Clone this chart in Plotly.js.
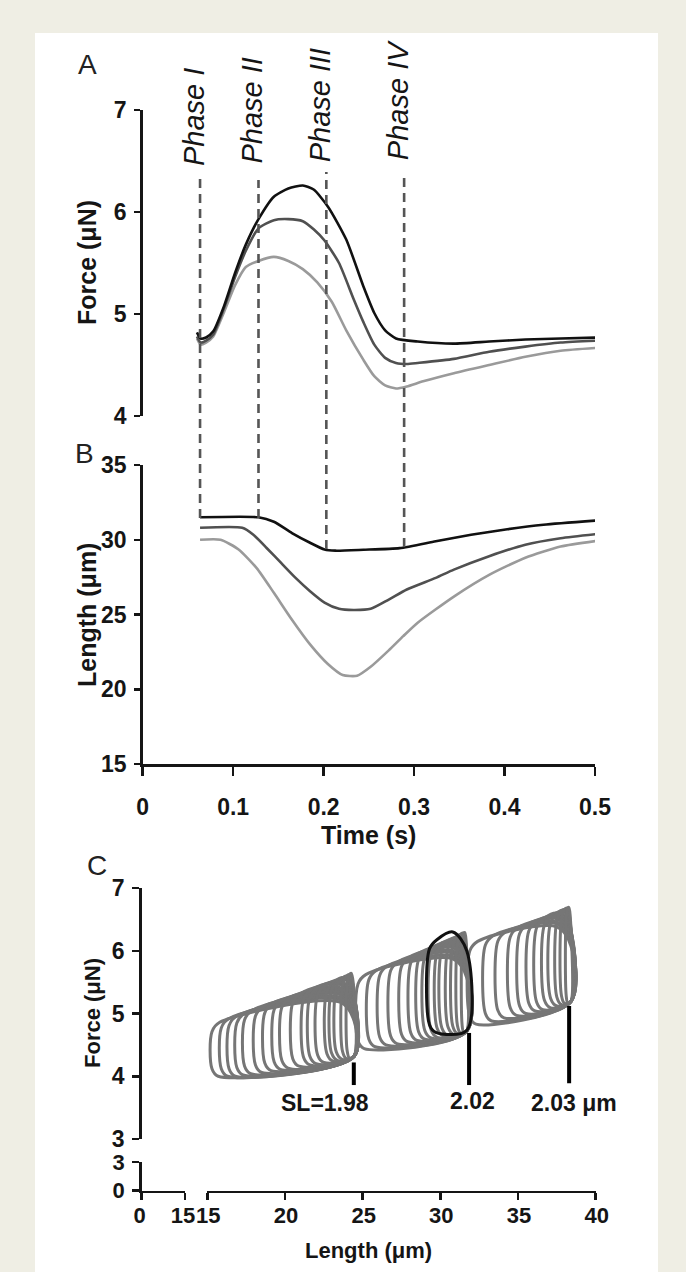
<!DOCTYPE html>
<html><head><meta charset="utf-8">
<script src="https://cdn.plot.ly/plotly-3.0.1.min.js"></script>
<style>html,body{margin:0;padding:0;background:#efeee4;} #chart{width:686px;height:1272px;}</style>
</head><body><div id="chart"></div>
<script>
// ---------- Panel A: force vs time ----------
const tA_black = [0.060,0.064,0.070,0.078,0.090,0.102,0.114,0.128,0.145,0.161,0.177,0.189,0.205,0.225,0.244,0.256,0.268,0.280,0.304,0.344,0.383,0.423,0.462,0.505];
const fA_black = [4.82,4.76,4.77,4.83,5.08,5.40,5.68,5.93,6.15,6.23,6.26,6.22,6.05,5.73,5.27,5.01,4.84,4.76,4.73,4.71,4.73,4.75,4.76,4.77];
const tA_dark = [0.060,0.064,0.070,0.078,0.090,0.102,0.114,0.128,0.145,0.161,0.177,0.189,0.201,0.217,0.233,0.244,0.256,0.268,0.280,0.292,0.304,0.344,0.383,0.423,0.462,0.505];
const fA_dark = [4.78,4.72,4.74,4.80,5.06,5.36,5.62,5.84,5.92,5.93,5.91,5.83,5.72,5.50,5.15,4.92,4.70,4.57,4.52,4.51,4.52,4.56,4.63,4.68,4.72,4.74];
const tA_light = [0.060,0.064,0.070,0.078,0.090,0.102,0.114,0.128,0.145,0.161,0.177,0.193,0.209,0.225,0.244,0.256,0.268,0.280,0.292,0.310,0.344,0.383,0.423,0.462,0.505];
const fA_light = [4.76,4.70,4.72,4.78,5.02,5.28,5.46,5.52,5.56,5.52,5.44,5.31,5.12,4.84,4.55,4.39,4.30,4.27,4.29,4.34,4.42,4.50,4.58,4.64,4.67];

// ---------- Panel B: length vs time ----------
const tB_black = [0.0634,0.128,0.145,0.165,0.185,0.201,0.213,0.244,0.284,0.324,0.363,0.403,0.443,0.505];
const lB_black = [31.5,31.5,31.2,30.45,29.8,29.35,29.27,29.33,29.44,29.9,30.33,30.7,31.0,31.3];
const tB_dark = [0.0634,0.110,0.122,0.137,0.153,0.169,0.185,0.201,0.217,0.233,0.252,0.272,0.292,0.324,0.344,0.383,0.423,0.462,0.505];
const lB_dark = [30.8,30.8,30.35,29.45,28.45,27.45,26.56,25.8,25.38,25.3,25.38,26.0,26.67,27.45,28.0,28.9,29.67,30.1,30.4];
const tB_light = [0.0634,0.086,0.106,0.126,0.145,0.165,0.185,0.205,0.221,0.237,0.252,0.272,0.288,0.304,0.344,0.383,0.423,0.462,0.505];
const lB_light = [30.0,30.0,29.35,28.1,26.45,24.65,23.0,21.67,20.95,20.9,21.5,22.6,23.55,24.45,26.2,27.65,28.8,29.55,29.95];

// ---------- Phase markers ----------
const phaseTimes = [0.0634, 0.128, 0.203, 0.289];
const phaseNames = ['Phase I', 'Phase II', 'Phase III', 'Phase IV'];

// ---------- Panel C: work loops (length, force) ----------
const groupRight = [24.45, 31.7, 38.4];
const groupRightBase = [4.32, 4.72, 5.19];
const g1Left = [15.3,15.9,16.4,16.9,17.4,18.1,18.7,19.3,19.8,20.5,21.2,21.6,22.1,22.7,23.0,23.3,23.7,24.0];
const g1TopL = [4.86,4.92,4.96,5.00,5.05,5.11,5.16,5.21,5.25,5.32,5.38,5.41,5.45,5.51,5.53,5.56,5.59,5.62];
const g1TopR = [5.18,5.22,5.24,5.26,5.30,5.33,5.36,5.39,5.41,5.46,5.49,5.51,5.53,5.57,5.58,5.60,5.62,5.64];
const g1Base = [4.00,4.00,4.00,4.02,4.04,4.06,4.09,4.11,4.13,4.16,4.18,4.20,4.22,4.24,4.25,4.27,4.28,4.29];
const g2Left = [24.7,25.4,26.1,26.8,27.5,28.1,28.6,29.0,29.4,29.8,30.1,30.5,30.8,31.1,31.4];
const g2TopL = [5.62,5.69,5.76,5.83,5.90,5.96,6.01,6.05,6.09,6.13,6.16,6.20,6.23,6.26,6.28];
const g2TopR = [5.87,5.91,5.96,6.00,6.05,6.09,6.12,6.15,6.17,6.20,6.22,6.24,6.26,6.28,6.29];
const g2Base = [4.44,4.47,4.50,4.52,4.55,4.57,4.59,4.61,4.62,4.64,4.65,4.66,4.68,4.69,4.70];
const g3Left = [31.9,32.9,33.7,34.5,35.1,35.7,36.2,36.7,37.1,37.5,37.8,38.1];
const g3TopL = [6.15,6.24,6.30,6.37,6.42,6.47,6.52,6.56,6.60,6.63,6.66,6.68];
const g3TopR = [6.38,6.43,6.46,6.51,6.54,6.56,6.60,6.62,6.65,6.66,6.68,6.69];
const g3Base = [4.83,4.88,4.93,4.97,5.00,5.04,5.06,5.09,5.12,5.14,5.16,5.17];
// highlighted (black) loop
const blackLoopLeft = [29.3], blackLoopRight = [31.7], blackLoopTopL = [6.18], blackLoopTopR = [6.30], blackLoopBaseL = [4.70], blackLoopBaseR = [4.73];
// sarcomere-length markers
const slLabels = ['SL=1.98', '2.02', '2.03 μm'];
const slMarkX = [24.43, 31.85, 38.29];
const slMarkTop = [4.22, 4.69, 5.12];
const slMarkBottom = [3.86, 3.86, 3.89];
const slLabelX = [22.6, 32.1, 38.6];
const slLabelY = [3.58, 3.60, 3.58];

// ---------- helpers / layout ----------
const W = 686, H = 1272;
const PX = p => p / W, PY = p => 1 - p / H;
const FONT = 'Arial, "Liberation Sans", Helvetica, sans-serif';
const INK = '#151515';

function loopXY(Le, R, tL, tR, bL, bR) {
  const w = R - Le;
  const dxL = Math.min(0.5, w / 3), dyL = 0.15;
  const dxR = Math.min(0.9, w / 2.5), dyR = 0.3;
  const dxB = Math.min(0.4, w / 3), dyB = 0.12;
  return {
    x: [R, R, R - dxR, Le + dxL, Le, Le, Le + dxB, R],
    y: [bR, tR - dyR, tR, tL, tL - dyL, bL + dyB, bL, bR]
  };
}

const traces = [];
function tsTrace(t, v, color, yax) {
  return {x: t, y: v, xaxis: 'x', yaxis: yax, mode: 'lines', type: 'scatter',
    line: {color: color, width: 2.6, shape: 'spline', smoothing: 0.6}, hoverinfo: 'skip'};
}
traces.push(tsTrace(tA_light, fA_light, '#9a9a9a', 'y'));
traces.push(tsTrace(tA_dark, fA_dark, '#505050', 'y'));
traces.push(tsTrace(tA_black, fA_black, '#111111', 'y'));
traces.push(tsTrace(tB_light, lB_light, '#9a9a9a', 'y2'));
traces.push(tsTrace(tB_dark, lB_dark, '#505050', 'y2'));
traces.push(tsTrace(tB_black, lB_black, '#111111', 'y2'));

const groups = [
  [g1Left, g1TopL, g1TopR, g1Base],
  [g2Left, g2TopL, g2TopR, g2Base],
  [g3Left, g3TopL, g3TopR, g3Base]
];
groups.forEach((g, gi) => {
  g[0].forEach((Le, i) => {
    const p = loopXY(Le, groupRight[gi], g[1][i], g[2][i], g[3][i], groupRightBase[gi]);
    traces.push({x: p.x, y: p.y, xaxis: 'x4', yaxis: 'y3', mode: 'lines', type: 'scatter',
      line: {color: '#767676', width: 3, shape: 'spline', smoothing: 0.9}, hoverinfo: 'skip'});
  });
});
blackLoopLeft.forEach((Le, i) => {
  const p = loopXY(Le, blackLoopRight[i], blackLoopTopL[i], blackLoopTopR[i], blackLoopBaseL[i], blackLoopBaseR[i]);
  traces.push({x: p.x, y: p.y, xaxis: 'x4', yaxis: 'y3', mode: 'lines', type: 'scatter',
    line: {color: '#111111', width: 3, shape: 'spline', smoothing: 0.9}, hoverinfo: 'skip'});
});
const mx = [], my = [];
slMarkX.forEach((x, i) => { mx.push(x, x, null); my.push(slMarkBottom[i], slMarkTop[i], null); });
traces.push({x: mx, y: my, xaxis: 'x4', yaxis: 'y3', mode: 'lines', type: 'scatter',
  line: {color: '#000', width: 4}, hoverinfo: 'skip'});
// empty traces so that the broken-axis segments of panel C exist
traces.push({x: [], y: [], xaxis: 'x3', yaxis: 'y4', mode: 'lines', type: 'scatter', hoverinfo: 'skip'});
traces.push({x: [], y: [], xaxis: 'x4', yaxis: 'y4', mode: 'lines', type: 'scatter', hoverinfo: 'skip'});
traces.push({x: [], y: [], xaxis: 'x3', yaxis: 'y3', mode: 'lines', type: 'scatter', hoverinfo: 'skip'});

function axBase(extra) {
  return Object.assign({
    showline: true, linecolor: INK, linewidth: 2.5, ticks: 'outside', tickcolor: INK, tickwidth: 2.5,
    showgrid: false, zeroline: false, fixedrange: true,
    tickfont: {family: FONT, size: 23, color: INK, weight: 'bold'}
  }, extra);
}
const cTickFont = {family: FONT, size: 22, color: INK, weight: 'bold'};

const annotations = [];
const ann = (o) => annotations.push(Object.assign({showarrow: false, font: {family: FONT, size: 24, color: INK}}, o));
const letterFont = {family: FONT, size: 28, color: '#222'};
ann({xref: 'paper', yref: 'paper', x: PX(87), y: PY(65), text: 'A', xanchor: 'center', yanchor: 'middle', font: letterFont});
ann({xref: 'paper', yref: 'paper', x: PX(84), y: PY(453), text: 'B', xanchor: 'center', yanchor: 'middle', font: letterFont});
ann({xref: 'paper', yref: 'paper', x: PX(97), y: PY(865), text: 'C', xanchor: 'center', yanchor: 'middle', font: letterFont});
// axis titles
const titleFont = {family: FONT, size: 25, color: INK, weight: 'bold'};
ann({xref: 'paper', yref: 'paper', x: PX(87), y: PY(263), text: 'Force (μN)', textangle: -90, font: titleFont, xanchor: 'center', yanchor: 'middle'});
ann({xref: 'paper', yref: 'paper', x: PX(87), y: PY(615), text: 'Length (μm)', textangle: -90, font: titleFont, xanchor: 'center', yanchor: 'middle'});
ann({xref: 'paper', yref: 'paper', x: PX(369), y: PY(835), text: 'Time (s)', font: titleFont, xanchor: 'center', yanchor: 'middle'});
ann({xref: 'paper', yref: 'paper', x: PX(92), y: PY(1013), text: 'Force (μN)', textangle: -90, font: Object.assign({}, titleFont, {size: 22}), xanchor: 'center', yanchor: 'middle'});
ann({xref: 'paper', yref: 'paper', x: PX(369), y: PY(1250), text: 'Length (μm)', font: Object.assign({}, titleFont, {size: 22}), xanchor: 'center', yanchor: 'middle'});
// phase labels
const phaseLabelBottomPx = [168, 165, 164, 162];
phaseTimes.forEach((t, i) => {
  ann({xref: 'x', yref: 'paper', x: t, y: PY(phaseLabelBottomPx[i]), xshift: -6, text: phaseNames[i], textangle: -90,
    xanchor: 'center', yanchor: 'bottom', font: {family: FONT, size: 29, color: INK, style: 'italic'}});
});
// SL labels
slLabels.forEach((s, i) => {
  ann({xref: 'x4', yref: 'y3', x: slLabelX[i], y: slLabelY[i], text: s, xanchor: 'center', yanchor: 'middle',
    font: {family: FONT, size: 23, color: INK, weight: 'bold'}});
});

const phaseTopPx = [177, 180, 172, 172];
const phaseBottomPx = [518, 518, 549, 547];
const shapes = [
  {type: 'rect', xref: 'paper', yref: 'paper', x0: PX(35), x1: PX(658), y0: 0, y1: PY(33), fillcolor: '#ffffff', line: {width: 0}, layer: 'below'}
];
phaseTimes.forEach((t, i) => {
  shapes.push({type: 'line', xref: 'x', yref: 'paper', x0: t, x1: t, y0: PY(phaseBottomPx[i]), y1: PY(phaseTopPx[i]),
    line: {color: '#555555', width: 2.6, dash: '9px,6px'}});
});

const layout = {
  width: W, height: H, margin: {l: 0, r: 0, t: 0, b: 0},
  paper_bgcolor: '#efeee4', plot_bgcolor: 'rgba(0,0,0,0)', showlegend: false,
  font: {family: FONT, color: INK},
  xaxis: axBase({domain: [PX(142.7), PX(595)], range: [0, 0.5], anchor: 'y2', tickvals: [0, 0.1, 0.2, 0.3, 0.4, 0.5], ticktext: ['0', '0.1', '0.2', '0.3', '0.4', '0.5'], ticklen: 9, ticklabelstandoff: 12}),
  yaxis: axBase({domain: [PY(416), PY(110)], range: [4, 7], anchor: 'x', tickvals: [4, 5, 6, 7], ticklen: 6, ticklabelstandoff: 3}),
  yaxis2: axBase({domain: [PY(764), PY(465)], range: [15, 35], anchor: 'x', tickvals: [15, 20, 25, 30, 35], ticklen: 6, ticklabelstandoff: 3}),
  xaxis3: axBase({domain: [PX(141.7), PX(185)], range: [0, 15], anchor: 'y4', tickvals: [0, 15], ticklen: 7, ticklabelstandoff: -4, ticklabelshift: -2, tickfont: cTickFont}),
  xaxis4: axBase({domain: [PX(207.3), PX(595.7)], range: [15, 40], anchor: 'y4', tickvals: [15, 20, 25, 30, 35, 40], ticklen: 7, ticklabelstandoff: -4, ticklabelshift: 1, tickfont: cTickFont}),
  yaxis3: axBase({domain: [PY(1139), PY(888)], range: [3, 7], anchor: 'x3', tickvals: [3, 4, 5, 6, 7], ticklen: 7, ticklabelstandoff: 3}),
  yaxis4: axBase({domain: [PY(1190.7), PY(1162)], range: [0, 3], anchor: 'x3', tickvals: [0, 3], ticklen: 7, ticklabelstandoff: 3, tickfont: cTickFont}),
  annotations: annotations,
  shapes: shapes
};

Plotly.newPlot('chart', traces, layout, {displayModeBar: false, staticPlot: true});
</script></body></html>
